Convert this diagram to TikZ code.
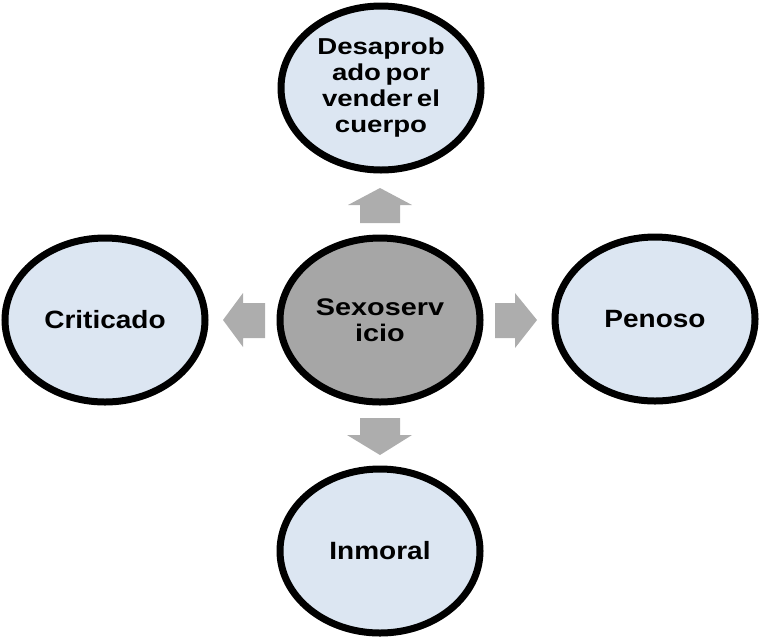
\documentclass[tikz,border=0pt]{standalone}
\usepackage{fontspec}
\setmainfont{Liberation Sans}
\usepackage{graphicx}
\usetikzlibrary{shapes.geometric}
\definecolor{paleblue}{HTML}{DCE6F2}
\definecolor{hubgray}{HTML}{A6A6A6}
\definecolor{arrowgray}{HTML}{ADADAD}
% labels are set slightly widened, with narrow word gaps
\newcommand{\wideline}[2][1.12]{\scalebox{#1}[1]{#2}}
\newcommand{\tightgap}{\spaceskip=0.16em\relax}
\begin{document}
\begin{tikzpicture}[x=1pt,y=-1pt,
  bubble/.style={ellipse, draw=black, line width=7pt, fill=paleblue,
    minimum width=200pt, minimum height=164pt, inner sep=0pt,
    font=\fontsize{25}{26}\selectfont\bfseries, align=center},
  hub/.style={bubble, fill=hubgray},
  smalltext/.style={font=\fontsize{23}{26}\selectfont\bfseries\tightgap},
  blockarrow/.style={fill=arrowgray}]
\useasboundingbox (0,0) rectangle (759,638);

% circles
\node[hub, font=\fontsize{24}{26}\selectfont\bfseries] (hub) at (380,320)
  {\wideline[1.2]{Sexoserv}\\\wideline[1.2]{icio}};
\node[bubble, smalltext] (top) at (381,88)
  {\wideline[1.2]{Desaprob}\\\wideline[1.2]{ado por}\\\wideline[1.2]{vender el}\\\wideline[1.2]{cuerpo}};
\node[bubble] (left)   at (105,320) {\wideline{Criticado}};
\node[bubble] (right)  at (655,319) {\wideline{Penoso}};
\node[bubble] (bottom) at (380,551) {\wideline{Inmoral}};

% block arrows pointing outward from the hub
\fill[blockarrow] (265,303) -- (243,303) -- (243,293) -- (223,320)
  -- (243,347) -- (243,338) -- (265,338) -- cycle;
\fill[blockarrow] (495,303) -- (515,303) -- (515,293) -- (537,320)
  -- (515,348) -- (515,338) -- (495,338) -- cycle;
\fill[blockarrow] (360,223) -- (360,205) -- (348,205) -- (380,188)
  -- (412,205) -- (400,205) -- (400,223) -- cycle;
\fill[blockarrow] (360,418) -- (360,435) -- (347,435) -- (380,455)
  -- (412,435) -- (400,435) -- (400,418) -- cycle;
\end{tikzpicture}
\end{document}
